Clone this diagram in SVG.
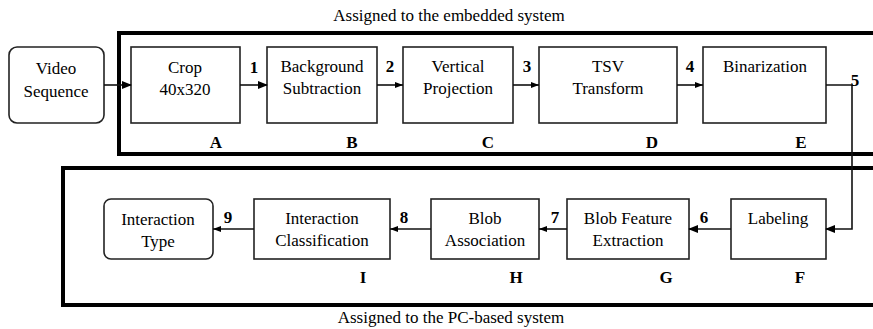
<svg xmlns="http://www.w3.org/2000/svg" width="873" height="329" viewBox="0 0 873 329">
<style>
text{font-family:"Liberation Serif","Times New Roman",serif;fill:#000;text-anchor:middle}
.t{font-size:17px}
.b{font-size:17px;font-weight:bold}
.box{fill:#fff;stroke:#222;stroke-width:1.6}
.frame{fill:none;stroke:#000;stroke-width:4}
.c{fill:none;stroke:#111;stroke-width:1.6}
</style>
<defs>
<marker id="ah" markerWidth="10" markerHeight="8" refX="9" refY="4" orient="auto" markerUnits="userSpaceOnUse">
<path d="M0,0 L10,4 L0,8 Z" fill="#000"/>
</marker>
<marker id="ahs" markerWidth="8" markerHeight="6" refX="8" refY="3" orient="auto" markerUnits="userSpaceOnUse">
<path d="M0,0 L8,3 L0,6 Z" fill="#000"/>
</marker>
</defs>
<g id="frames">
<rect class="frame" x="119" y="33" width="780" height="121"/>
<rect class="frame" x="63" y="168" width="840" height="137"/>
<text class="t" x="449" y="21">Assigned to the embedded system</text>
<text class="t" x="451" y="323">Assigned to the PC-based system</text>
</g>
<g id="video"><rect class="box" x="9" y="47" width="95" height="76" rx="8"/><text class="t" x="56" y="74">Video</text><text class="t" x="56" y="97">Sequence</text></g>
<g id="A"><rect class="box" x="131" y="47" width="109" height="76"/><text class="t" x="185" y="73">Crop</text><text class="t" x="185" y="95">40x320</text><text class="b" x="216" y="148">A</text></g>
<g id="B"><rect class="box" x="267" y="47" width="110" height="76"/><text class="t" x="322" y="72">Background</text><text class="t" x="322" y="94">Subtraction</text><text class="b" x="352" y="148">B</text></g>
<g id="C"><rect class="box" x="403" y="47" width="110" height="76"/><text class="t" x="458" y="72">Vertical</text><text class="t" x="458" y="94">Projection</text><text class="b" x="488" y="148">C</text></g>
<g id="D"><rect class="box" x="539" y="47" width="138" height="76"/><text class="t" x="608" y="72">TSV</text><text class="t" x="608" y="94">Transform</text><text class="b" x="652" y="148">D</text></g>
<g id="E"><rect class="box" x="703" y="47" width="123" height="76"/><text class="t" x="765" y="72">Binarization</text><text class="b" x="801" y="148">E</text></g>
<g id="F"><rect class="box" x="731" y="199" width="95" height="60"/><text class="t" x="778" y="224">Labeling</text><text class="b" x="800" y="283">F</text></g>
<g id="G"><rect class="box" x="567" y="199" width="122" height="60"/><text class="t" x="628" y="224">Blob Feature</text><text class="t" x="628" y="246">Extraction</text><text class="b" x="666" y="283">G</text></g>
<g id="H"><rect class="box" x="431" y="199" width="108" height="60"/><text class="t" x="485" y="224">Blob</text><text class="t" x="485" y="246">Association</text><text class="b" x="516" y="283">H</text></g>
<g id="I"><rect class="box" x="254" y="199" width="136" height="60"/><text class="t" x="322" y="224">Interaction</text><text class="t" x="322" y="246">Classification</text><text class="b" x="363" y="283">I</text></g>
<g id="type"><rect class="box" x="104" y="199" width="109" height="60" rx="7"/><text class="t" x="158" y="225">Interaction</text><text class="t" x="158" y="247">Type</text></g>
<g id="connectors">
<line class="c" x1="104" y1="85" x2="131" y2="85" marker-end="url(#ah)"/>
<line class="c" x1="240" y1="85" x2="267" y2="85" marker-end="url(#ah)"/>
<line class="c" x1="377" y1="85" x2="403" y2="85" marker-end="url(#ahs)"/>
<line class="c" x1="513" y1="85" x2="539" y2="85" marker-end="url(#ahs)"/>
<line class="c" x1="677" y1="85" x2="703" y2="85" marker-end="url(#ahs)"/>
<polyline class="c" points="826,85 852,85 852,229 826,229" marker-end="url(#ah)"/>
<line class="c" x1="731" y1="229" x2="689" y2="229" marker-end="url(#ah)"/>
<line class="c" x1="567" y1="229" x2="539" y2="229" marker-end="url(#ahs)"/>
<line class="c" x1="431" y1="229" x2="390" y2="229" marker-end="url(#ahs)"/>
<line class="c" x1="254" y1="229" x2="213" y2="229" marker-end="url(#ahs)"/>
<text class="b" x="254" y="73">1</text>
<text class="b" x="390" y="72">2</text>
<text class="b" x="527" y="72">3</text>
<text class="b" x="690" y="72">4</text>
<text class="b" x="855" y="86">5</text>
<text class="b" x="704" y="223">6</text>
<text class="b" x="555" y="223">7</text>
<text class="b" x="404" y="223">8</text>
<text class="b" x="228" y="223">9</text>
</g>
</svg>
